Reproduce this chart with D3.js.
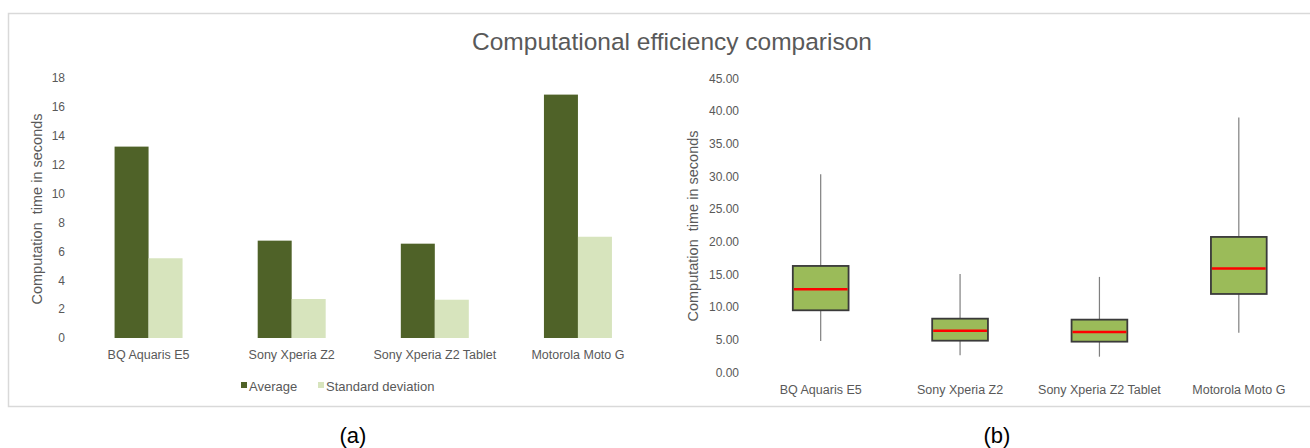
<!DOCTYPE html>
<html>
<head>
<meta charset="utf-8">
<script src="https://cdn.jsdelivr.net/npm/d3@7"></script>
<style>
  body { margin: 0; background: #fff; }
  svg text { font-family: "Liberation Sans", Arial, sans-serif; }
</style>
</head>
<body>
<svg id="chart" width="1310" height="448"></svg>
<script>
// data
const devices = ["BQ Aquaris E5", "Sony Xperia Z2", "Sony Xperia Z2 Tablet", "Motorola Moto G"];
const seriesNames = ["Average", "Standard deviation"];
const average = [13.25, 6.74, 6.53, 16.85];
const stdDev = [5.52, 2.70, 2.65, 7.01];
const barTicks = [0, 2, 4, 6, 8, 10, 12, 14, 16, 18];

const boxMin = [4.79, 2.60, 2.39, 6.07];
const boxQ1 = [9.49, 4.84, 4.69, 11.99];
const boxMedian = [12.70, 6.37, 6.17, 15.87];
const boxQ3 = [16.28, 8.21, 8.06, 20.72];
const boxMax = [30.30, 15.05, 14.60, 39.00];
const boxTicks = [0, 5, 10, 15, 20, 25, 30, 35, 40, 45];

const textGrey = "#595959";
const yTitle = "Computation\u00A0 time in seconds";
const svg = d3.select("#chart");

// outer frame + title
svg.append("rect")
  .attr("x", 8.5).attr("y", 13.5)
  .attr("width", 1320).attr("height", 393)
  .attr("fill", "none")
  .attr("stroke", "#d9d9d9")
  .attr("stroke-width", 1.5);

svg.append("text")
  .attr("x", 672).attr("y", 50)
  .attr("text-anchor", "middle")
  .style("font-size", "24.5px")
  .attr("fill", textGrey)
  .text("Computational efficiency comparison");

// =======================
// (a) grouped bars
// =======================
const barColors = { "Average": "#4F6228", "Standard deviation": "#D7E4BD" };
const barRows = devices.map((d, i) => ({ device: d, values: [average[i], stdDev[i]] }));

const yA = d3.scaleLinear().domain([0, 18]).range([338, 78]);
const x0 = d3.scaleBand().domain(devices).range([77, 649.5])
  .paddingInner(0.525).paddingOuter(0.2625);
const x1 = d3.scaleBand().domain(seriesNames).range([0, x0.bandwidth()]);

const gA = svg.append("g");

gA.append("g")
  .attr("transform", "translate(77,0)")
  .call(d3.axisLeft(yA).tickValues(barTicks).tickSize(0).tickPadding(12))
  .call(g => g.select(".domain").remove())
  .selectAll("text")
    .attr("fill", textGrey)
    .style("font-size", "12px")
    .style("font-family", "Liberation Sans, Arial, sans-serif");

gA.selectAll("g.group")
  .data(barRows)
  .enter().append("g")
    .attr("class", "group")
    .attr("transform", d => `translate(${x0(d.device)},0)`)
  .selectAll("rect")
  .data(d => d.values.map((v, j) => ({ key: seriesNames[j], v })))
  .enter().append("rect")
    .attr("x", d => x1(d.key))
    .attr("y", d => yA(d.v))
    .attr("width", x1.bandwidth())
    .attr("height", d => yA(0) - yA(d.v))
    .attr("fill", d => barColors[d.key]);

gA.append("g")
  .attr("transform", "translate(0,338)")
  .call(d3.axisBottom(x0).tickSize(0).tickPadding(12))
  .call(g => g.select(".domain").remove())
  .selectAll("text")
    .attr("fill", textGrey)
    .style("font-size", "12.5px")
    .style("font-family", "Liberation Sans, Arial, sans-serif");

gA.append("text")
  .attr("transform", "translate(42,209) rotate(-90)")
  .attr("text-anchor", "middle")
  .attr("fill", textGrey)
  .style("font-size", "14.5px")
  .text(yTitle);

// legend
const legendX = [241, 318];
seriesNames.forEach((s, i) => {
  gA.append("rect")
    .attr("x", legendX[i]).attr("y", 382)
    .attr("width", 6).attr("height", 6)
    .attr("fill", barColors[s]);
  gA.append("text")
    .attr("x", legendX[i] + 8).attr("y", 390.5)
    .attr("fill", textGrey)
    .style("font-size", "13px")
    .text(s);
});

svg.append("text")
  .attr("x", 353).attr("y", 443)
  .attr("text-anchor", "middle")
  .style("font-size", "22px")
  .attr("fill", "#000")
  .text("(a)");

// =======================
// (b) box plot
// =======================
const boxRows = devices.map((d, i) => ({
  device: d, min: boxMin[i], q1: boxQ1[i], med: boxMedian[i], q3: boxQ3[i], max: boxMax[i]
}));

const yB = d3.scaleLinear().domain([0, 45]).range([372.3, 78.3]);
const xB = d3.scaleBand().domain(devices).range([751, 1308.5])
  .paddingInner(0.6).paddingOuter(0.3);

const gB = svg.append("g");

gB.append("g")
  .attr("transform", "translate(751,0)")
  .call(d3.axisLeft(yB).tickValues(boxTicks).tickFormat(d3.format(".2f")).tickSize(0).tickPadding(12))
  .call(g => g.select(".domain").remove())
  .selectAll("text")
    .attr("fill", textGrey)
    .style("font-size", "12px")
    .style("font-family", "Liberation Sans, Arial, sans-serif");

const boxes = gB.selectAll("g.box")
  .data(boxRows)
  .enter().append("g")
    .attr("class", "box");

// whiskers
boxes.append("line")
  .attr("x1", d => xB(d.device) + xB.bandwidth() / 2)
  .attr("x2", d => xB(d.device) + xB.bandwidth() / 2)
  .attr("y1", d => yB(d.max))
  .attr("y2", d => yB(d.q3))
  .attr("stroke", "#7f7f7f").attr("stroke-width", 1.2);
boxes.append("line")
  .attr("x1", d => xB(d.device) + xB.bandwidth() / 2)
  .attr("x2", d => xB(d.device) + xB.bandwidth() / 2)
  .attr("y1", d => yB(d.q1))
  .attr("y2", d => yB(d.min))
  .attr("stroke", "#7f7f7f").attr("stroke-width", 1.2);

boxes.append("rect")
  .attr("x", d => xB(d.device))
  .attr("y", d => yB(d.q3))
  .attr("width", xB.bandwidth())
  .attr("height", d => yB(d.q1) - yB(d.q3))
  .attr("fill", "#9BBB59")
  .attr("stroke", "#3a3a3a")
  .attr("stroke-width", 1.8);

boxes.append("line")
  .attr("x1", d => xB(d.device) + 1)
  .attr("x2", d => xB(d.device) + xB.bandwidth() - 1)
  .attr("y1", d => yB(d.med))
  .attr("y2", d => yB(d.med))
  .attr("stroke", "#FF0000").attr("stroke-width", 2.5);

gB.append("g")
  .attr("transform", "translate(0,372.3)")
  .call(d3.axisBottom(xB).tickSize(0).tickPadding(13))
  .call(g => g.select(".domain").remove())
  .selectAll("text")
    .attr("fill", textGrey)
    .style("font-size", "12.5px")
    .style("font-family", "Liberation Sans, Arial, sans-serif");

gB.append("text")
  .attr("transform", "translate(698,226) rotate(-90)")
  .attr("text-anchor", "middle")
  .attr("fill", textGrey)
  .style("font-size", "14.5px")
  .text(yTitle);

svg.append("text")
  .attr("x", 997).attr("y", 443)
  .attr("text-anchor", "middle")
  .style("font-size", "22px")
  .attr("fill", "#000")
  .text("(b)");
</script>
</body>
</html>
